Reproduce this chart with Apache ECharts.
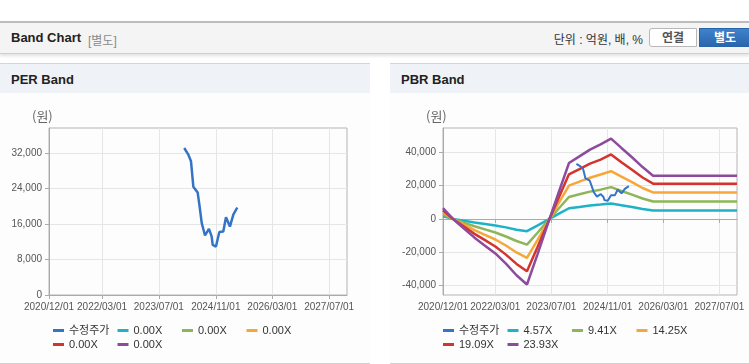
<!DOCTYPE html>
<html>
<head>
<meta charset="utf-8">
<script src="https://cdn.jsdelivr.net/npm/echarts@6/dist/echarts.min.js"></script>
<style>
  body { margin: 0; width: 749px; height: 364px; overflow: hidden; background: #fff; position: relative;
         font-family: 'Liberation Sans', 'Noto Sans CJK KR', sans-serif; }
  .topbar { position: absolute; left: 0; top: 21px; width: 749px; height: 30px; background: #f4f4f4;
            border-top: 2px solid #bcbcbc; border-bottom: 1px solid #cfcfcf; box-shadow: 0 2px 3px rgba(0,0,0,0.12); }
  .title { position: absolute; left: 11px; top: 7px; font-size: 13px; font-weight: bold; color: #222; }
  .sub { position: absolute; left: 88px; top: 8px; font-size: 12px; color: #8a8a8a; }
  .unit { position: absolute; right: 106px; top: 7px; font-size: 12px; color: #333; }
  .btn { position: absolute; top: 5px; height: 19px; width: 48px; font-size: 12px; font-weight: bold;
         text-align: center; line-height: 18px; box-sizing: border-box; }
  .btn1 { left: 649px; background: #fff; border: 1px solid #b8b8b8; border-radius: 3px 0 0 3px; color: #555; }
  .btn2 { left: 699px; width: 52px; background: linear-gradient(#3f82cc, #2a66ae); color: #fff; border: 1px solid #2a63a8; }
  .panel { position: absolute; top: 63px; height: 300px; background: #fdfdfd; border-bottom: 1px solid #cfcfcf; }
  .phead { position: absolute; left: 0; top: 0; right: 0; height: 29px; background: #eff2f7; border-top: 1px solid #d5d5d5; }
  .phead span { position: absolute; left: 11px; top: 8px; font-size: 13px; font-weight: bold; color: #222; }
  .chart { position: absolute; top: 30px; left: 0; right: 0; height: 270px; }
</style>
</head>
<body>
<div class="topbar">
  <div class="title">Band Chart</div>
  <div class="sub">[별도]</div>
  <div class="unit">단위 : 억원, 배, %</div>
  <div class="btn btn1">연결</div>
  <div class="btn btn2">별도</div>
</div>
<div class="panel" style="left:0;width:370px">
  <div class="phead"><span>PER Band</span></div>
  <div class="chart" id="per"></div>
</div>
<div class="panel" style="left:390px;width:359px">
  <div class="phead"><span>PBR Band</span></div>
  <div class="chart" id="pbr"></div>
</div>
<script>
// x axis range and tick labels
const xStart = '2020-12-01'
const xEnd = '2027-12-01'
const xTickLabels = ['2020/12/01', '2022/03/01', '2023/07/01', '2024/11/01', '2026/03/01', '2027/07/01']
const perTicks = [0, 8000, 16000, 24000, 32000]
const pbrTicks = [-40000, -20000, 0, 20000, 40000]

// 수정주가
const priceDates = ['2024-02-04', '2024-03-10', '2024-04-02', '2024-04-22', '2024-05-29', '2024-06-15',
  '2024-07-03', '2024-07-31', '2024-09-03', '2024-09-26', '2024-10-05', '2024-11-02', '2024-12-01',
  '2025-01-04', '2025-01-27', '2025-03-02', '2025-03-31', '2025-05-04']
const priceValues = [33100, 31600, 30100, 24400, 23100, 19900, 16200, 13400, 14900, 13200, 11300,
  10900, 14200, 14300, 17500, 15400, 18100, 19700]

// PBR band lines
const bandDates = ['2020-12-01', '2021-03-01', '2021-06-01', '2021-09-01', '2021-12-01', '2022-03-01',
  '2022-06-01', '2022-09-01', '2022-12-01', '2023-03-01', '2023-06-15', '2023-09-01', '2023-12-01',
  '2024-03-01', '2024-06-01', '2024-09-01', '2024-12-01', '2025-03-01', '2025-06-01', '2025-09-01',
  '2025-12-01', '2027-12-01']
const pbr457 = [1600, 0, -1100, -2200, -3100, -4000, -5100, -6500, -7400, -4100, 0, 3000, 6400,
  7200, 8000, 8600, 9200, 8200, 7100, 6000, 5000, 5000]
const pbr941 = [2800, -100, -2300, -4400, -6300, -8200, -10600, -13300, -15500, -8500, 0, 6100, 13200,
  14800, 16400, 17600, 19100, 16800, 14600, 12300, 10500, 10500]
const pbr1425 = [3900, -100, -3500, -6700, -9600, -12400, -16000, -20200, -23500, -12900, 0, 9300, 20000,
  22400, 24800, 26700, 28700, 25400, 22100, 18600, 15900, 15900]
const pbr1909 = [5200, -200, -4600, -9000, -12800, -16600, -21500, -27100, -31500, -17200, 0, 12400, 26800,
  30000, 33300, 35700, 38800, 34100, 29600, 24900, 21200, 21200]
const pbr2393 = [6500, -200, -5800, -11300, -16100, -20800, -26900, -33900, -39500, -21600, 0, 15600, 33600,
  37600, 41700, 44800, 48300, 42700, 37100, 31200, 26000, 26000]

const perBandNames = ['0.00X', '0.00X', '0.00X', '0.00X', '0.00X']
const pbrBandNames = ['4.57X', '9.41X', '14.25X', '19.09X', '23.93X']

const colors = ['#3474c6', '#1eb2c6', '#8eb55a', '#f5a73a', '#d2342e', '#8e4b9d']

function toTime(s) {
  const p = s.replace(/\//g, '-').split('-')
  return new Date(+p[0], +p[1] - 1, +p[2]).getTime()
}
function pts(dates, values) {
  return dates.map((d, i) => [toTime(d), values[i]])
}
const xTickValues = xTickLabels.map(toTime)

function buildOption(yMin, yMax, yTicks, bandNames, bandData, nameLeft, priceWidth) {
  // series ids are unique, legend shows the display names
  const labelMap = { p: '수정주가' }
  const series = [{
    id: 'p', name: 'p', type: 'line', data: pts(priceDates, priceValues),
    showSymbol: false, symbol: 'none', color: colors[0],
    lineStyle: { width: priceWidth, color: colors[0] }, z: 5
  }]
  bandNames.forEach((n, i) => {
    const key = 'b' + i
    labelMap[key] = n
    series.push({
      id: key, name: key, type: 'line', data: bandData[i] ? pts(bandDates, bandData[i]) : [],
      showSymbol: false, symbol: 'none', color: colors[i + 1],
      lineStyle: { width: 2.5, color: colors[i + 1] }
    })
  })
  const axisFont = "'Liberation Sans', sans-serif"
  return {
    animation: false,
    textStyle: { fontFamily: "'Liberation Sans', 'Noto Sans CJK KR', sans-serif" },
    title: {
      text: '(원)', left: nameLeft, top: 17, padding: 0,
      textStyle: { fontSize: 13, fontWeight: 'normal', color: '#666', fontFamily: "'Noto Sans CJK KR', sans-serif" }
    },
    grid: {
      left: 53, right: 0, top: 35, bottom: 68, show: true,
      borderColor: '#b4b4b4', borderWidth: 1
    },
    legend: {
      data: series.map(s => s.name),
      formatter: name => labelMap[name],
      left: 53, top: 231, width: 265, padding: 0,
      icon: 'rect', itemWidth: 11, itemHeight: 3, itemGap: 1,
      textStyle: { fontSize: 11, color: '#333', width: 47.5, lineHeight: 13,
        fontFamily: "'Liberation Sans', 'Noto Sans CJK KR', sans-serif" }
    },
    xAxis: {
      type: 'value', min: toTime(xStart), max: toTime(xEnd),
      axisLine: { lineStyle: { color: '#aaa' } },
      axisTick: { show: true, length: 4, customValues: xTickValues, lineStyle: { color: '#aaa' } },
      axisLabel: {
        customValues: xTickValues, margin: 7, fontSize: 10, color: '#555', fontFamily: axisFont,
        showMinLabel: true, showMaxLabel: true, hideOverlap: false,
        formatter: v => xTickLabels[xTickValues.indexOf(v)] || ''
      },
      splitLine: { show: true, lineStyle: { color: '#e6e6e6' } }
    },
    yAxis: {
      type: 'value', min: yMin, max: yMax,
      axisLine: { show: true, lineStyle: { color: '#aaa' } },
      axisTick: { show: true, length: 4, customValues: yTicks, lineStyle: { color: '#aaa' } },
      axisLabel: {
        customValues: yTicks, margin: 7, fontSize: 10, color: '#555', fontFamily: axisFont,
        showMinLabel: true, showMaxLabel: true,
        formatter: v => v.toLocaleString('en-US')
      },
      splitLine: { show: true, lineStyle: { color: '#e6e6e6' } }
    },
    series
  }
}

const perChart = echarts.init(document.getElementById('per'))
perChart.setOption(buildOption(0, 37600, perTicks, perBandNames, [], 32, 2.5))
perChart.setOption({ grid: { left: 49, right: 23 } })

const pbrChart = echarts.init(document.getElementById('pbr'))
pbrChart.setOption(buildOption(-45800, 54700, pbrTicks, pbrBandNames,
  [pbr457, pbr941, pbr1425, pbr1909, pbr2393], 36, 2))
pbrChart.setOption({ grid: { left: 53, right: 12 } })
</script>
</body>
</html>
